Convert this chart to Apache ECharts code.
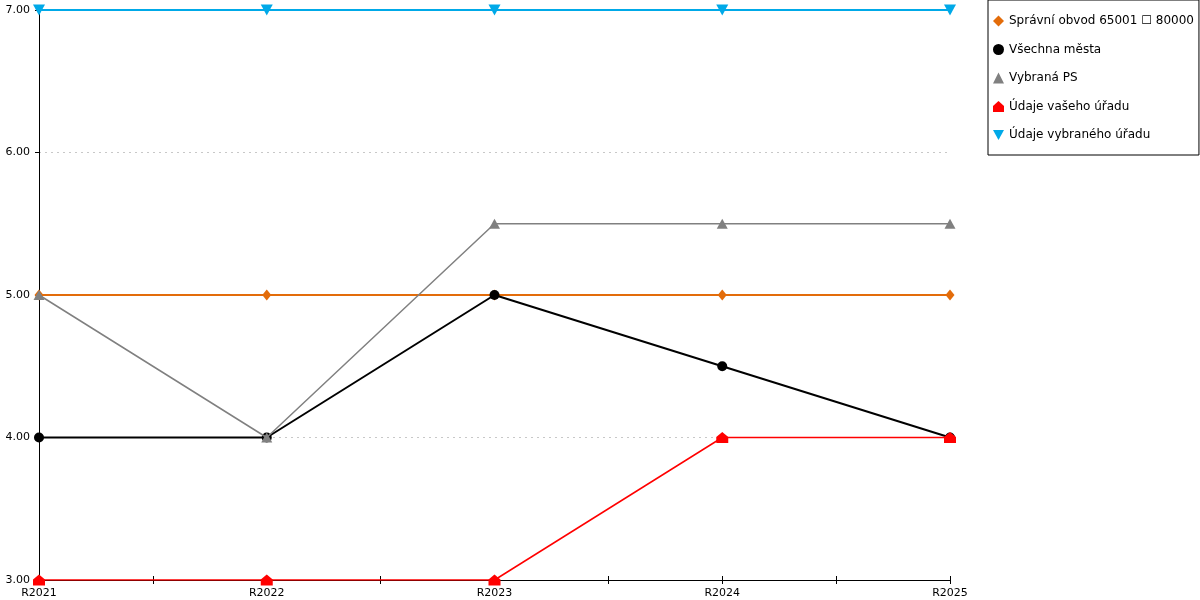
<!DOCTYPE html>
<html><head><meta charset="utf-8">
<script src="https://cdn.jsdelivr.net/npm/echarts@6/dist/echarts.min.js"></script>
<style>html,body{margin:0;padding:0;background:#fff}#c{width:1200px;height:600px}</style>
</head><body><div id="c"></div>
<script>
const categories = ['R2021','R2022','R2023','R2024','R2025'];
const seriesNames = ['Správní obvod 65001 ☐ 80000','Všechna města','Vybraná PS','Údaje vašeho úřadu','Údaje vybraného úřadu'];
const spravniObvod = [5, 5, 5, 5, 5];
const vsechnaMesta = [4, 4, 5, 4.5, 4];
const vybranaPS = [5, 4, 5.5, 5.5, 5.5];
const vasehoUradu = [3, 3, 3, 4, 4];
const vybranehoUradu = [7, 7, 7, 7, 7];
const yTicks = [3, 4, 5, 6, 7];

const HOUSE = 'path://M5,0 L10,4.5 L10,10 L0,10 L0,4.5 Z';
const INV_TRI = 'path://M0,0 L10,0 L5,9 Z';
const colors = ['#e36c0a', '#000000', '#808080', '#ff0000', '#00a9e8'];
const symbols = ['diamond', 'circle', 'triangle', HOUSE, INV_TRI];
const sizes = [[9, 11], 10, [11, 10], [12, 11], [12, 11]];
const widths = [2, 2, 1.5, 1.5, 2];
const values = [spravniObvod, vsechnaMesta, vybranaPS, vasehoUradu, vybranehoUradu];

const font = 'DejaVu Sans';
const chart = echarts.init(document.getElementById('c'));
const xAxisBase = {
  type: 'value', min: 0, max: categories.length - 1, interval: 0.5,
  splitLine: {show: false}
};
chart.setOption({
  animation: false,
  textStyle: {fontFamily: font},
  grid: {left: 39, right: 250, top: 10, bottom: 20, show: false},
  legend: {
    orient: 'vertical', left: 988, top: 0,
    padding: [15, 5, 14, 5],
    itemWidth: 11, itemHeight: 11, itemGap: 16.5,
    borderColor: '#000', borderWidth: 1,
    textStyle: {fontFamily: font, fontSize: 12, color: '#000'},
    data: seriesNames.map((n, i) => ({name: n, icon: symbols[i], itemStyle: {color: colors[i]}}))
  },
  xAxis: [
    Object.assign({}, xAxisBase, {
      axisLine: {show: true, lineStyle: {color: '#000'}},
      axisTick: {show: true, length: 4, lineStyle: {color: '#000'}},
      axisLabel: {
        fontFamily: font, fontSize: 11, color: '#000', margin: 8,
        formatter: v => Number.isInteger(v) ? categories[v] : ''
      }
    }),
    Object.assign({}, xAxisBase, {
      position: 'bottom',
      axisLine: {show: false},
      axisTick: {show: true, inside: true, length: 4, lineStyle: {color: '#000'}},
      axisLabel: {show: false}
    })
  ],
  yAxis: [
    {
      type: 'value', min: yTicks[0], max: yTicks[yTicks.length - 1], interval: 1,
      axisLine: {show: true, lineStyle: {color: '#000'}},
      axisTick: {show: true, length: 4, lineStyle: {color: '#000'}},
      axisLabel: {fontFamily: font, fontSize: 11, color: '#000', margin: 9, formatter: v => v.toFixed(2)},
      splitLine: {show: true, lineStyle: {color: '#c8c8c8', type: [2, 4]}}
    },
    {
      type: 'value', position: 'right', min: yTicks[0], max: yTicks[yTicks.length - 1], interval: 1,
      axisLine: {show: true, lineStyle: {color: '#000'}},
      axisTick: {show: false}, axisLabel: {show: false}, splitLine: {show: false}
    }
  ],
  series: seriesNames.map((n, i) => ({
    name: n, type: 'line',
    data: values[i].map((v, k) => [k, v]),
    symbol: symbols[i], symbolSize: sizes[i], showAllSymbol: true,
    itemStyle: {color: colors[i]},
    lineStyle: {color: colors[i], width: widths[i]},
    z: 2 + i
  }))
});
</script></body></html>
